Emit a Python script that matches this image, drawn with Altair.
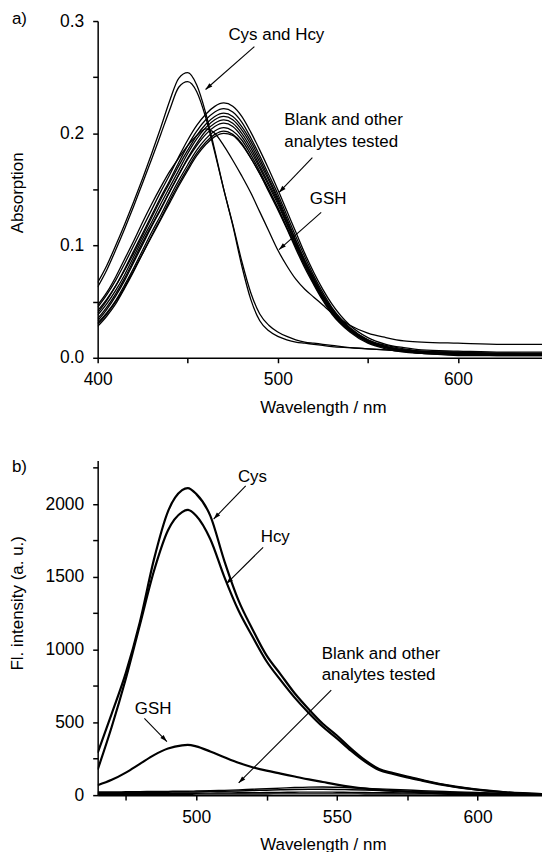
import math
import altair as alt
import pandas as pd

FONT = "Liberation Sans"

# ---------------- Panel a: absorption ----------------
WL_A = [400, 405, 410, 415, 420, 425, 430, 435, 440, 445, 450, 455, 460, 465, 470,
        475, 480, 485, 490, 495, 500, 505, 510, 515, 520, 525, 530, 540, 550, 560,
        570, 580, 600, 625, 650]

ABS_CYS = [.067, .082, .100, .119, .139, .160, .182, .205, .229, .249, .254, .243, .218, .185, .150,
           .118, .082, .052, .033, .024, .019, .016, .014, .013, .012, .011, .010, .009, .008, .007,
           .006, .005, .004, .003, .002]
ABS_HCY = [.063, .078, .096, .115, .135, .156, .177, .199, .221, .241, .246, .237, .214, .183, .150,
           .119, .086, .058, .039, .029, .023, .019, .016, .014, .013, .012, .011, .009, .008, .007,
           .006, .005, .004, .003, .003]
ABS_GSH = [.047, .058, .072, .088, .104, .121, .137, .152, .166, .178, .189, .198, .204, .200, .189,
           .176, .162, .147, .130, .113, .096, .082, .070, .061, .054, .047, .040, .029, .022, .018,
           .015, .014, .013, .012, .012]
ABS_B1 = [.045, .056, .069, .084, .100, .116, .132, .148, .163, .179, .194, .207, .217, .224, .227,
          .224, .215, .201, .185, .168, .150, .131, .112, .093, .076, .061, .048, .029, .018, .012,
          .009, .007, .006, .005, .005]
ABS_B2 = [.040, .051, .064, .079, .095, .111, .127, .143, .158, .174, .189, .202, .212, .219, .222,
          .219, .210, .196, .180, .163, .146, .127, .108, .090, .073, .058, .045, .027, .016, .011,
          .008, .006, .005, .004, .004]
ABS_B3 = [.042, .052, .064, .078, .093, .109, .125, .141, .156, .171, .185, .198, .208, .215, .218,
          .215, .206, .193, .177, .160, .143, .124, .105, .087, .071, .056, .044, .026, .016, .010,
          .007, .006, .005, .004, .004]
ABS_B4 = [.038, .048, .060, .074, .090, .106, .121, .137, .152, .167, .182, .195, .205, .212, .215,
          .212, .203, .190, .174, .158, .141, .122, .104, .086, .070, .055, .043, .026, .015, .010,
          .007, .005, .004, .004, .003]
ABS_B5 = [.033, .043, .055, .069, .085, .101, .117, .132, .148, .163, .178, .191, .202, .209, .212,
          .209, .200, .187, .171, .155, .139, .120, .102, .085, .069, .054, .042, .025, .015, .009,
          .006, .005, .004, .003, .003]
ABS_B6 = [.035, .045, .057, .071, .087, .103, .118, .133, .148, .163, .177, .189, .199, .206, .209,
          .206, .197, .184, .169, .153, .137, .119, .101, .084, .068, .054, .042, .025, .015, .010,
          .007, .005, .004, .004, .003]
ABS_B7 = [.031, .040, .051, .065, .080, .096, .112, .127, .143, .158, .172, .185, .195, .202, .205,
          .202, .194, .181, .166, .150, .134, .116, .099, .082, .066, .052, .040, .024, .014, .009,
          .006, .004, .003, .003, .002]
ABS_B8 = [.028, .037, .048, .062, .077, .093, .109, .124, .140, .155, .169, .182, .192, .199, .202,
          .199, .191, .178, .164, .148, .132, .115, .097, .080, .065, .051, .039, .023, .013, .008,
          .005, .004, .002, .002, .002]
ABS_B9 = [.030, .039, .050, .063, .078, .093, .108, .123, .138, .153, .167, .180, .190, .197, .200,
          .198, .190, .178, .164, .149, .133, .116, .099, .082, .067, .053, .041, .024, .014, .009,
          .006, .004, .003, .002, .002]

SERIES_A = {"Cys": ABS_CYS, "Hcy": ABS_HCY, "GSH": ABS_GSH, "B1": ABS_B1, "B2": ABS_B2,
            "B3": ABS_B3, "B4": ABS_B4, "B5": ABS_B5, "B6": ABS_B6, "B7": ABS_B7,
            "B8": ABS_B8, "B9": ABS_B9}

TEXT_A = ["Cys and Hcy", "Blank and other", "analytes tested", "GSH"]
TEXT_A_X = [499.2, 503.6, 503.6, 527.9]
TEXT_A_Y = [0.2878, 0.2115, 0.192, 0.1418]
TEXT_A_ALIGN = ["center", "left", "left", "center"]
ARROW_A_X1 = [487.0, 519.2, 524.1]
ARROW_A_Y1 = [0.2772, 0.1784, 0.1296]
ARROW_A_X2 = [459.9, 500.7, 500.7]
ARROW_A_Y2 = [0.2390, 0.1473, 0.0964]

# ---------------- Panel b: fluorescence ----------------
WL_B = [465, 470, 475, 480, 485, 490, 495, 497, 500, 505, 510, 515, 520, 525, 530,
        535, 540, 545, 550, 555, 560, 565, 570, 575, 580, 590, 600, 610, 625]
FL_CYS = [290, 560, 840, 1190, 1620, 1950, 2095, 2110, 2070, 1920, 1610, 1340, 1140, 960, 830,
          700, 590, 490, 410, 320, 240, 180, 152, 127, 105, 65, 38, 20, 6]
FL_HCY = [175, 470, 800, 1170, 1540, 1820, 1945, 1960, 1920, 1760, 1500, 1270, 1090, 920, 790,
          670, 565, 470, 390, 305, 230, 172, 146, 122, 101, 63, 37, 19, 6]
FL_GSH = [68, 105, 155, 215, 275, 320, 342, 345, 335, 300, 260, 222, 192, 168, 148,
          128, 108, 90, 72, 57, 45, 36, 29, 24, 20, 14, 10, 7, 4]
FL_K1 = [22, 22, 23, 24, 25, 26, 27, 27, 28, 30, 33, 36, 40, 44, 48,
         52, 55, 56, 54, 51, 47, 43, 39, 35, 31, 24, 18, 12, 7]
FL_K2 = [16, 17, 17, 18, 19, 20, 21, 21, 22, 24, 26, 28, 31, 34, 37,
         39, 40, 40, 39, 37, 35, 32, 29, 26, 23, 18, 13, 9, 5]
FL_K3 = [10, 10, 11, 11, 12, 12, 13, 13, 13, 14, 15, 16, 17, 18, 19,
         20, 21, 21, 20, 19, 18, 17, 16, 15, 13, 11, 8, 6, 3]
FL_K4 = [5, 5, 5, 6, 6, 6, 6, 6, 7, 7, 7, 8, 8, 8, 9,
         9, 9, 9, 9, 9, 8, 8, 8, 7, 7, 6, 5, 4, 2]
SERIES_B = {"Cys": FL_CYS, "Hcy": FL_HCY, "GSH": FL_GSH,
            "K1": FL_K1, "K2": FL_K2, "K3": FL_K3, "K4": FL_K4}
WIDTH_B = {"Cys": 2.2, "Hcy": 2.2, "GSH": 2.2, "K1": 1.4, "K2": 1.4, "K3": 1.4, "K4": 1.4}

TEXT_B = ["Cys", "Hcy", "Blank and other", "analytes tested", "GSH"]
TEXT_B_X = [520.0, 528.1, 544.6, 544.6, 484.7]
TEXT_B_Y = [2187, 1776, 973, 825, 590]
TEXT_B_ALIGN = ["center", "center", "left", "left", "center"]
ARROW_B_X1 = [517.6, 523.8, 548.0, 481.6]
ARROW_B_Y1 = [2125, 1703, 722, 528]
ARROW_B_X2 = [506.2, 510.7, 515.1, 489.6]
ARROW_B_Y2 = [1897, 1452, 83.5, 368]

# ---------------- layout ----------------
W = 452
HA = 338
HB = 336
XA_DOM = [400, 650]
YA_DOM = [0, 0.3]
XB_DOM = [465, 625]
YB_DOM = [0, 2300]

HEAD = "M0,0L-0.32,1L0.32,1Z"


def long_df(wl, series, widths=None):
    rows = []
    for name, vals in series.items():
        for w, v in zip(wl, vals):
            rows.append({"wl": w, "v": v, "s": name,
                         "sw": (widths or {}).get(name, 1.3)})
    return pd.DataFrame(rows)


def arrows_df(x1, y1, x2, y2, xdom, ydom, h):
    sx = W / (xdom[1] - xdom[0])
    sy = h / (ydom[1] - ydom[0])
    rows = []
    for a, b, c, d in zip(x1, y1, x2, y2):
        dx = (c - a) * sx
        dy = -(d - b) * sy
        ang = math.degrees(math.atan2(dx, -dy)) % 360
        rows.append({"x1": a, "y1": b, "x2": c, "y2": d, "ang": ang})
    return pd.DataFrame(rows)


def axis_common(**kw):
    base = dict(domainColor="black", domainWidth=1.5, tickColor="black", tickWidth=1.5,
                tickSize=5, labelFont=FONT, labelFontSize=17.5, labelColor="black",
                titleFont=FONT, titleFontSize=17, titleFontWeight="normal", titleColor="black",
                grid=False, labelOverlap=False, labelFlush=False)
    base.update(kw)
    return alt.Axis(**base)


def panel(df_lines, text_df, arr_df, xdom, ydom, h, xaxis, yaxis, tag, tag_y):
    xs = alt.Scale(domain=xdom, nice=False, zero=False)
    ys = alt.Scale(domain=ydom, nice=False, zero=False)
    lines = alt.Chart(df_lines).mark_line(color="black", interpolate="monotone",
                                          clip=True).encode(
        x=alt.X("wl:Q", scale=xs, axis=xaxis),
        y=alt.Y("v:Q", scale=ys, axis=yaxis),
        strokeWidth=alt.StrokeWidth("sw:Q", scale=None, legend=None),
        detail="s:N")
    rules = alt.Chart(arr_df).mark_rule(color="black", strokeWidth=1.1).encode(
        x=alt.X("x1:Q", scale=xs, axis=xaxis), y=alt.Y("y1:Q", scale=ys, axis=yaxis),
        x2="x2:Q", y2="y2:Q")
    heads = alt.Chart(arr_df).mark_point(shape=HEAD, filled=True, color="black", opacity=1,
                                         size=200, strokeWidth=0).encode(
        x=alt.X("x2:Q", scale=xs, axis=xaxis), y=alt.Y("y2:Q", scale=ys, axis=yaxis),
        angle=alt.Angle("ang:Q", scale=None))
    texts = []
    for al in ["left", "center"]:
        sub = text_df[text_df["align"] == al]
        texts.append(alt.Chart(sub).mark_text(font=FONT, fontSize=17, color="black", align=al,
                                              baseline="middle").encode(
            x=alt.X("x:Q", scale=xs, axis=xaxis), y=alt.Y("y:Q", scale=ys, axis=yaxis),
            text="t:N"))
    tag_df = pd.DataFrame({"t": [tag]})
    tagmark = alt.Chart(tag_df).mark_text(font=FONT, fontSize=17, color="black", align="center",
                                          baseline="middle").encode(
        x=alt.value(-78.5), y=alt.value(tag_y), text="t:N")
    return alt.layer(lines, rules, heads, *texts, tagmark).properties(width=W, height=h)


# panel a
df_a = long_df(WL_A, SERIES_A)
txt_a = pd.DataFrame({"t": TEXT_A, "x": TEXT_A_X, "y": TEXT_A_Y, "align": TEXT_A_ALIGN})
arr_a = arrows_df(ARROW_A_X1, ARROW_A_Y1, ARROW_A_X2, ARROW_A_Y2, XA_DOM, YA_DOM, HA)
xaxis_a = axis_common(title="Wavelength / nm", values=[400, 450, 500, 550, 600, 650],
                      labelExpr="datum.value == 400 || datum.value == 500 || datum.value == 600 ? format(datum.value, 'd') : ''",
                      labelPadding=8, titleX=226, titleY=41.5, titleBaseline="top", titleAlign="center")
yaxis_a = axis_common(title="Absorption", values=[0, 0.05, 0.1, 0.15, 0.2, 0.25, 0.3],
                      labelExpr="datum.value == 0.05 || datum.value == 0.15 || datum.value == 0.25 ? '' : format(datum.value, '.1f')",
                      labelPadding=9, titleX=-71.3, titleY=172, titleAngle=270,
                      titleBaseline="bottom", titleAlign="center")
chart_a = panel(df_a, txt_a, arr_a, XA_DOM, YA_DOM, HA, xaxis_a, yaxis_a, "a)", -2.5)

# panel b
df_b = long_df(WL_B, SERIES_B, WIDTH_B)
txt_b = pd.DataFrame({"t": TEXT_B, "x": TEXT_B_X, "y": TEXT_B_Y, "align": TEXT_B_ALIGN})
arr_b = arrows_df(ARROW_B_X1, ARROW_B_Y1, ARROW_B_X2, ARROW_B_Y2, XB_DOM, YB_DOM, HB)
xaxis_b = axis_common(title="Wavelength / nm", values=[475, 500, 525, 550, 575, 600, 625],
                      labelExpr="datum.value == 500 || datum.value == 550 || datum.value == 600 ? format(datum.value, 'd') : ''",
                      labelPadding=8, titleX=226, titleY=42, titleBaseline="top", titleAlign="center")
yaxis_b = axis_common(title="Fl. intensity (a. u.)",
                      values=[0, 250, 500, 750, 1000, 1250, 1500, 1750, 2000, 2250],
                      labelExpr="datum.value % 500 == 0 ? format(datum.value, 'd') : ''",
                      labelPadding=9, titleX=-71.3, titleY=143, titleAngle=270,
                      titleBaseline="bottom", titleAlign="center")
chart_b = panel(df_b, txt_b, arr_b, XB_DOM, YB_DOM, HB, xaxis_b, yaxis_b, "b)", 7)

chart = alt.vconcat(chart_a, chart_b, spacing=43).properties(
    padding={"left": 0, "top": -0.5, "right": -7, "bottom": 0}
).configure_view(stroke=None)

chart.save("out.html", embed_options={"renderer": "svg", "actions": False})
